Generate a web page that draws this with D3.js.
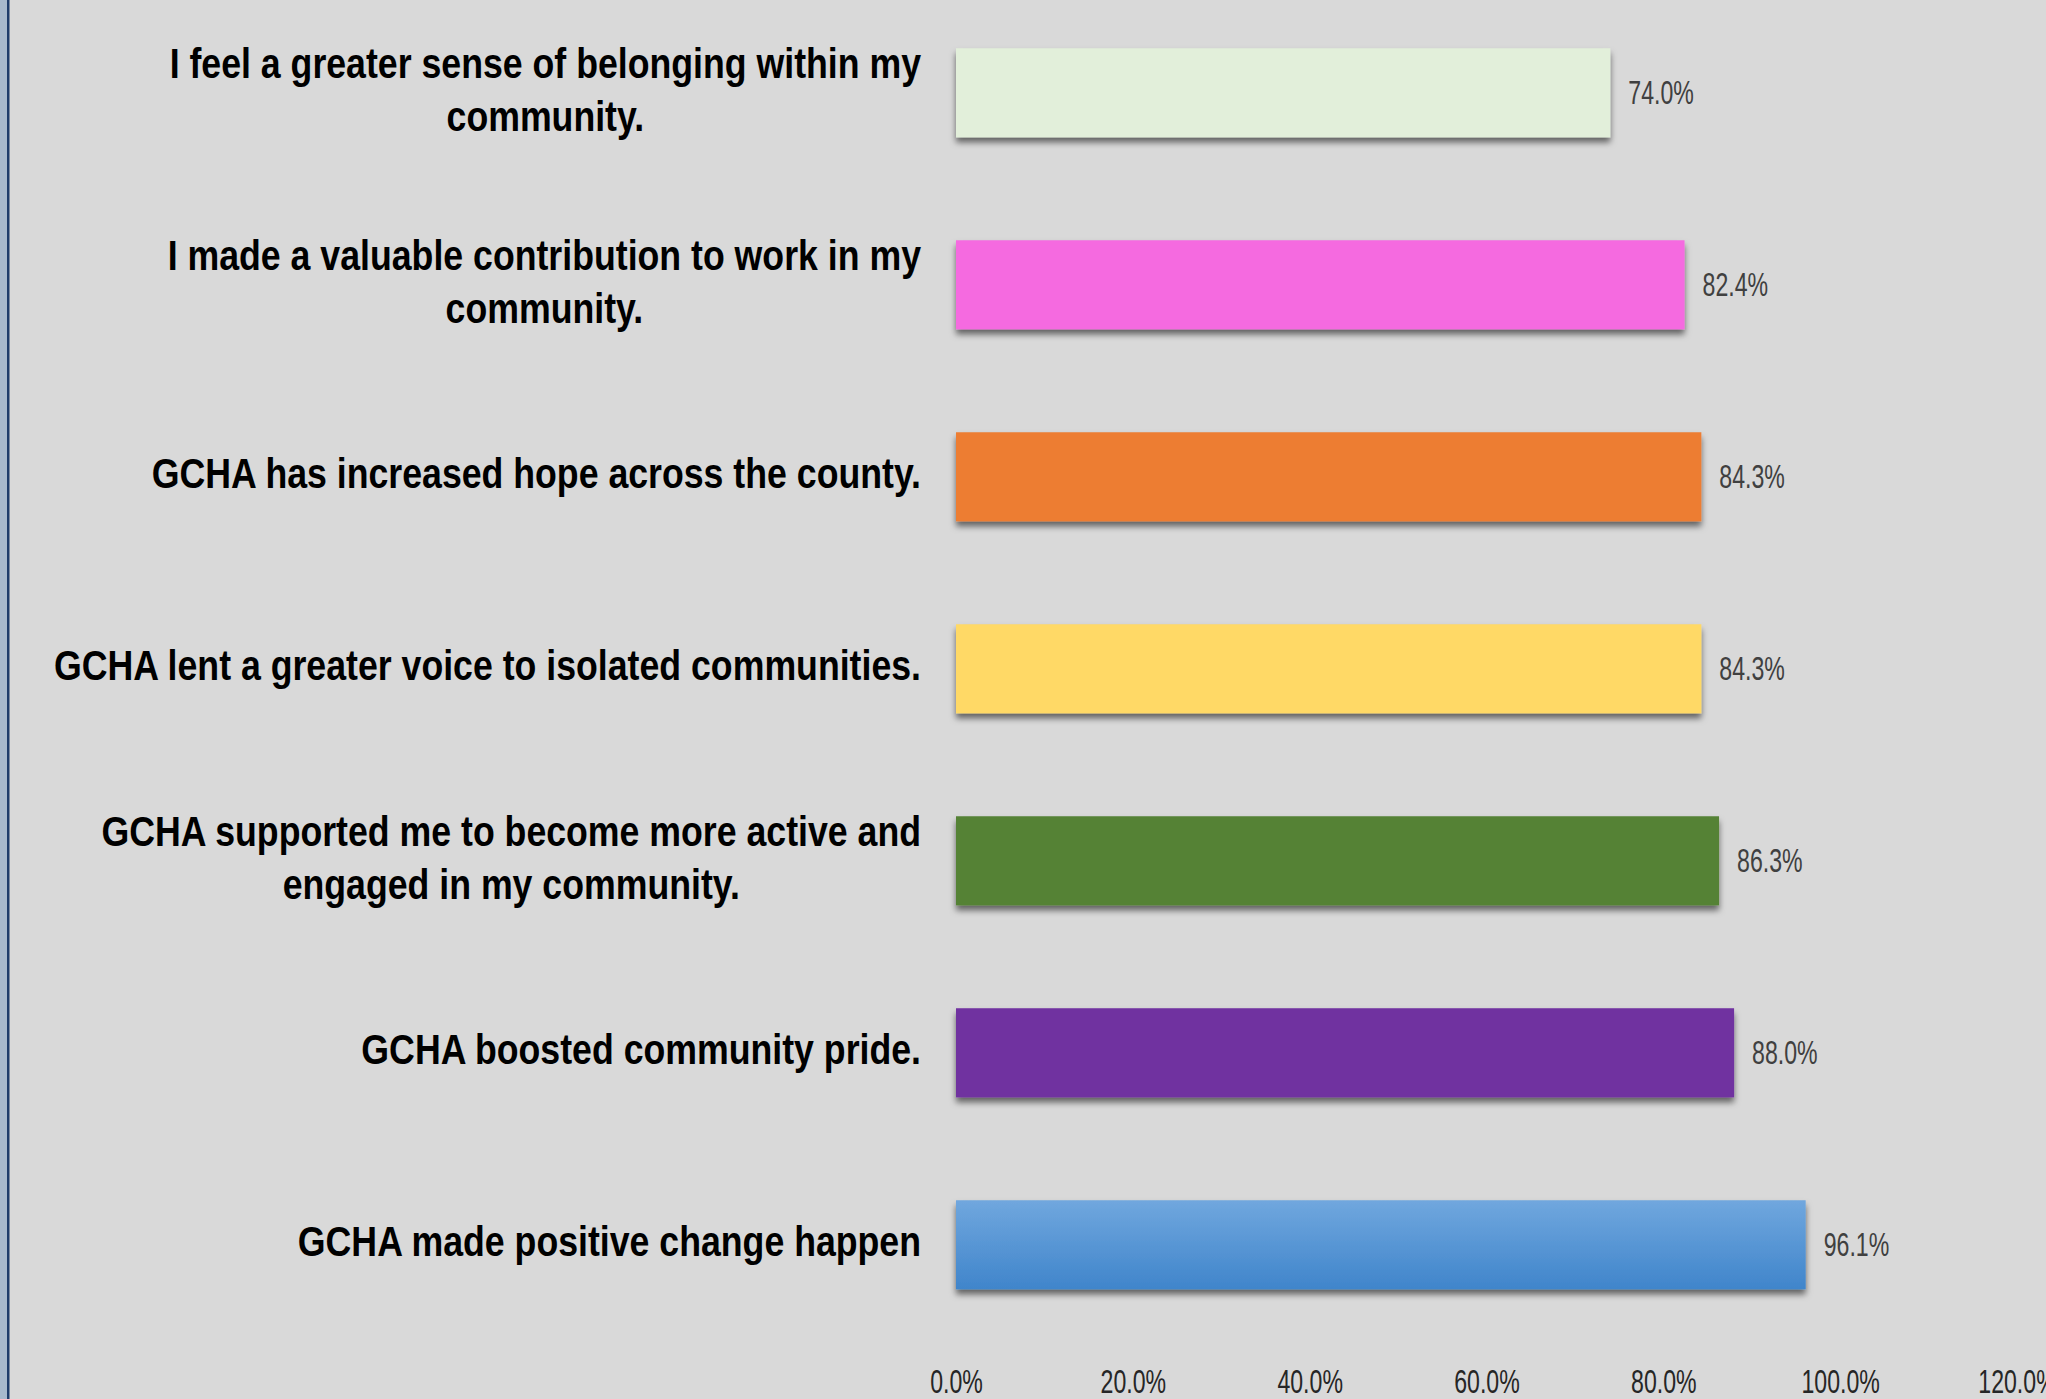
<!DOCTYPE html>
<html>
<head>
<meta charset="utf-8">
<script src="https://cdn.jsdelivr.net/npm/d3@7"></script>
<style>
  html, body { margin: 0; padding: 0; background: #d9d9d9; }
  svg { display: block; }
</style>
</head>
<body>
<div id="container"></div>
<script>
// données (de haut en bas)
const categories = [
  "I feel a greater sense of belonging within my\ncommunity.",
  "I made a valuable contribution to work in my\ncommunity.",
  "GCHA has increased hope across the county.",
  "GCHA lent a greater voice to isolated communities.",
  "GCHA supported me to become more active and\nengaged in my community.",
  "GCHA boosted community pride.",
  "GCHA made positive change happen"
]
const values = [0.740, 0.824, 0.843, 0.843, 0.863, 0.880, 0.961]
const ticks = [0, 0.2, 0.4, 0.6, 0.8, 1.0, 1.2]

// couleurs des barres
const colors = ["#e2efda", "#f56be0", "#ed7d31", "#ffd966", "#548235", "#7030a0", "url(#blueGrad)"]

const width = 2046
const height = 1399

const svg = d3.select("#container").append("svg")
  .attr("width", width)
  .attr("height", height)

const defs = svg.append("defs")
const grad = defs.append("linearGradient")
  .attr("id", "blueGrad")
  .attr("x1", 0).attr("y1", 0).attr("x2", 0).attr("y2", 1)
grad.append("stop").attr("offset", "0%").attr("stop-color", "#70a7de")
grad.append("stop").attr("offset", "100%").attr("stop-color", "#4085cb")

const shadow = defs.append("filter")
  .attr("id", "shadow")
  .attr("x", "-5%").attr("y", "-20%")
  .attr("width", "110%").attr("height", "150%")
shadow.append("feDropShadow")
  .attr("dx", 0).attr("dy", 5)
  .attr("stdDeviation", 3)
  .attr("flood-color", "#000")
  .attr("flood-opacity", 0.55)

// fond
svg.append("rect")
  .attr("width", width).attr("height", height)
  .attr("fill", "#d9d9d9")
svg.append("rect")
  .attr("x", 0).attr("width", 7).attr("height", height)
  .attr("fill", "#a7b9cd")
svg.append("rect")
  .attr("x", 7).attr("width", 2.5).attr("height", height)
  .attr("fill", "#1e3c6b")

// échelles
const x = d3.scaleLinear()
  .domain([0, 1.2])
  .range([956, 2017])

const y = d3.scaleBand()
  .domain(categories)
  .range([-3.2, 1340.8])
  .paddingInner(0.536)
  .paddingOuter(0.268)

// barres
svg.append("g")
  .attr("id", "bars")
  .selectAll("rect")
  .data(values)
  .enter().append("rect")
  .attr("x", x(0))
  .attr("y", (d, i) => y(categories[i]))
  .attr("width", d => x(d) - x(0))
  .attr("height", y.bandwidth())
  .attr("fill", (d, i) => colors[i])
  .attr("filter", "url(#shadow)")

// étiquettes de valeurs
const labelSx = 0.68
svg.append("g")
  .attr("id", "valueLabels")
  .selectAll("text")
  .data(values)
  .enter().append("text")
  .attr("transform", (d, i) => `translate(${x(d) + 18},${y(categories[i]) + y.bandwidth() / 2}) scale(${labelSx},1)`)
  .attr("dy", "0.32em")
  .attr("font-family", "'Liberation Sans', Arial, sans-serif")
  .attr("font-size", 34)
  .attr("fill", "#404040")
  .text(d => d3.format(".1%")(d))

// axe des abscisses (sans ligne)
const xAxis = d3.axisBottom(x)
  .tickValues(ticks)
  .tickFormat(d3.format(".1%"))
  .tickSize(0)
  .tickPadding(0)

const axisG = svg.append("g")
  .attr("transform", "translate(0,1381)")
  .call(xAxis)
axisG.select(".domain").remove()
axisG.selectAll("text")
  .attr("y", 0)
  .attr("dy", "0.35em")
  .attr("font-family", "'Liberation Sans', Arial, sans-serif")
  .attr("font-size", 34)
  .attr("fill", "#262626")
  .attr("transform", `scale(${labelSx},1)`)

// catégories (texte centré, bloc aligné à droite)
const catSx = 0.83
const rightEdge = 921
const lineH = 53.5
const catG = svg.append("g").attr("id", "categories")

categories.forEach((c, i) => {
  const lines = c.split("\n")
  const g = catG.append("g")
    .attr("transform", `translate(${rightEdge},${y(c) + y.bandwidth() / 2}) scale(${catSx},1)`)
  const texts = lines.map((l, j) => g.append("text")
    .attr("y", (j - (lines.length - 1) / 2) * lineH)
    .attr("dy", "0.27em")
    .attr("font-family", "'Liberation Sans', Arial, sans-serif")
    .attr("font-weight", "bold")
    .attr("font-size", 43)
    .attr("fill", "#000")
    .attr("text-anchor", "middle")
    .text(l))
  const maxW = d3.max(texts, t => t.node().getComputedTextLength())
  texts.forEach(t => t.attr("x", -maxW / 2))
})
</script>
</body>
</html>
